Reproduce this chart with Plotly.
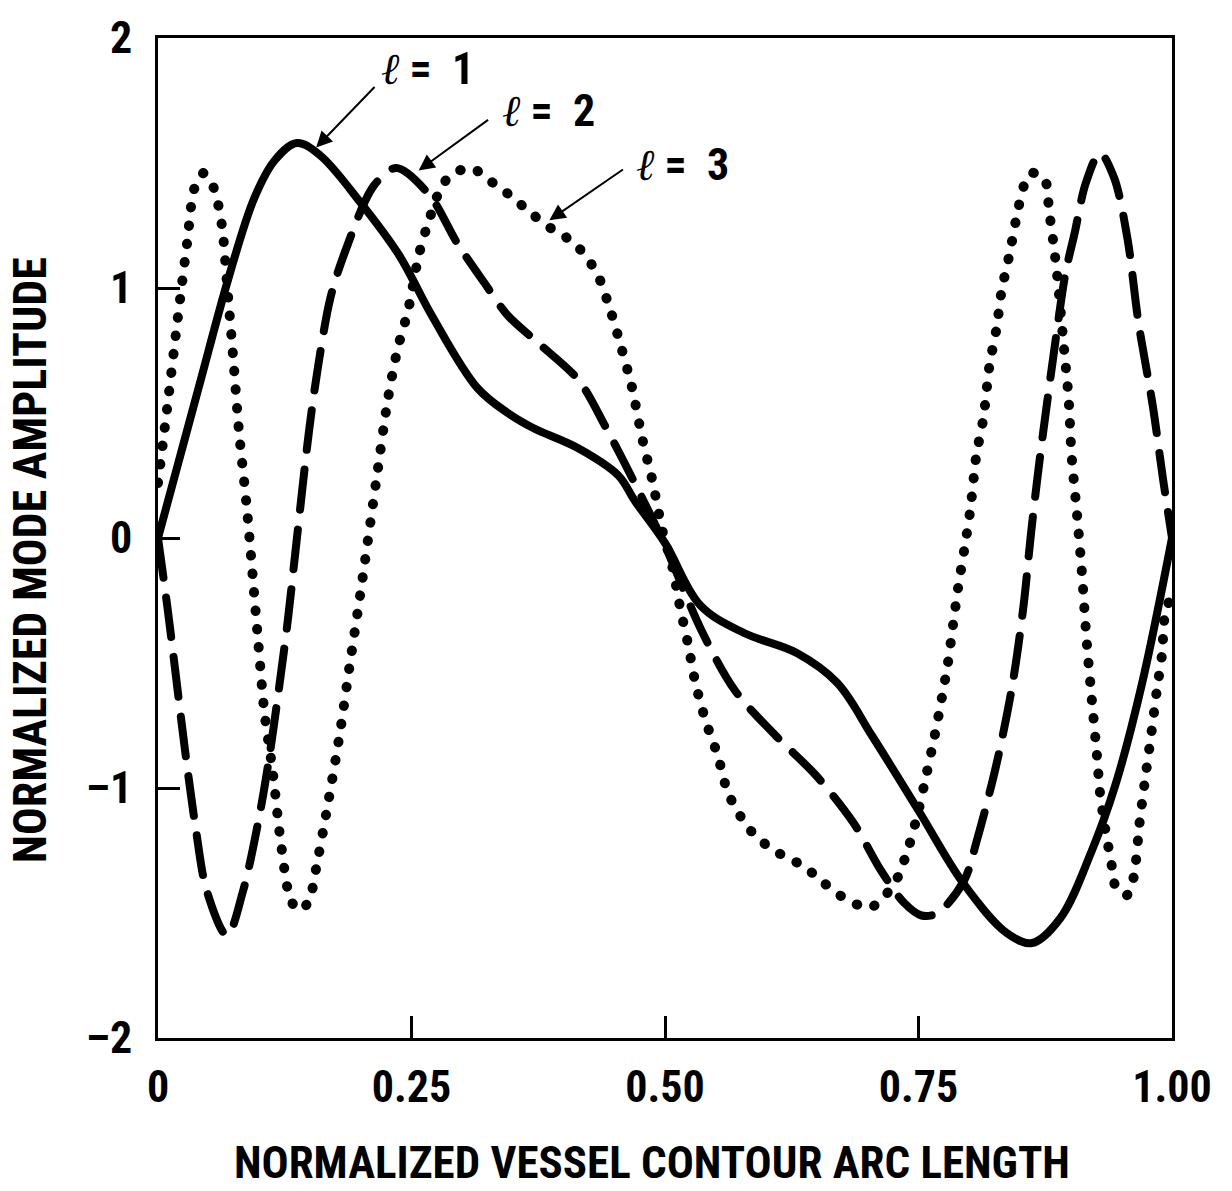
import plotly.graph_objects as go

# ---- data ----
l1_x = [0, 0.02, 0.04, 0.071, 0.095, 0.115, 0.137, 0.16, 0.2, 0.238, 0.27, 0.315, 0.345, 0.37,
        0.414, 0.454, 0.47, 0.5, 0.535, 0.578, 0.63, 0.67, 0.704, 0.75, 0.794, 0.837, 0.862,
        0.89, 0.92, 0.944, 0.97, 1.0]
l1_y = [0, 0.30, 0.60, 1.06, 1.36, 1.51, 1.58, 1.53, 1.34, 1.13, 0.89, 0.60, 0.50, 0.44,
        0.36, 0.25, 0.15, -0.02, -0.27, -0.38, -0.46, -0.58, -0.79, -1.09, -1.38, -1.58, -1.62,
        -1.52, -1.26, -0.99, -0.59, 0.0]

l2_x = [0, 0.0097, 0.027, 0.0375, 0.048, 0.068, 0.084, 0.1005, 0.11, 0.119, 0.128, 0.137,
        0.149, 0.158, 0.170, 0.184, 0.213, 0.235, 0.268, 0.295, 0.322, 0.345, 0.375, 0.415,
        0.442, 0.475, 0.5, 0.536, 0.569, 0.609, 0.649, 0.686, 0.713, 0.736, 0.753, 0.769,
        0.795, 0.8075, 0.8266, 0.8425, 0.8536, 0.861, 0.870, 0.8855, 0.895, 0.904, 0.915,
        0.929, 0.943, 0.956, 0.967, 0.981, 0.991, 1.0]
l2_y = [0, -0.29, -0.86, -1.17, -1.41, -1.59, -1.41, -1.10, -0.87, -0.61, -0.33, 0.0,
        0.43, 0.69, 0.96, 1.14, 1.41, 1.48, 1.37, 1.18, 1.02, 0.89, 0.78, 0.63,
        0.44, 0.18, -0.03, -0.37, -0.61, -0.79, -0.95, -1.14, -1.33, -1.46, -1.51, -1.50,
        -1.37, -1.21, -0.91, -0.59, -0.27, 0.02, 0.33, 0.80, 1.06, 1.22, 1.42,
        1.54, 1.44, 1.20, 0.86, 0.53, 0.24, 0.0]

l3_x = [0, 0.0105, 0.0195, 0.0287, 0.036, 0.045, 0.055, 0.063, 0.068, 0.074, 0.08, 0.0876,
        0.0987, 0.105, 0.113, 0.1215, 0.131, 0.14, 0.149, 0.156, 0.166, 0.179, 0.189, 0.2,
        0.2156, 0.2265, 0.2365, 0.2466, 0.2577, 0.268, 0.28, 0.292, 0.31, 0.323, 0.338, 0.353,
        0.368, 0.383, 0.4, 0.415, 0.425, 0.435, 0.447, 0.457, 0.467, 0.478, 0.487, 0.498,
        0.507, 0.515, 0.523, 0.53, 0.54, 0.552, 0.562, 0.57, 0.58, 0.592, 0.607, 0.622, 0.639,
        0.654, 0.669, 0.686, 0.702, 0.717, 0.728, 0.74, 0.75, 0.756, 0.766, 0.773, 0.779,
        0.784, 0.789, 0.795, 0.801, 0.807, 0.814, 0.82, 0.827, 0.832, 0.84, 0.847, 0.854,
        0.861, 0.874, 0.879, 0.884, 0.888, 0.893, 0.898, 0.901, 0.906, 0.911, 0.916, 0.921,
        0.926, 0.929, 0.934, 0.941, 0.944, 0.955, 0.962, 0.968, 0.973, 0.98, 0.985, 0.99,
        0.993, 1.0]
l3_y = [0.22, 0.57, 0.88, 1.18, 1.40, 1.46, 1.40, 1.25, 1.02, 0.73, 0.42, 0.12,
        -0.41, -0.70, -0.93, -1.23, -1.45, -1.49, -1.45, -1.32, -1.10, -0.79, -0.51, -0.21,
        0.24, 0.55, 0.76, 0.91, 1.14, 1.28, 1.41, 1.46, 1.48, 1.44, 1.40, 1.35,
        1.30, 1.25, 1.21, 1.16, 1.11, 1.04, 0.90, 0.76, 0.61, 0.39, 0.24, 0.02,
        -0.11, -0.28, -0.43, -0.58, -0.73, -0.87, -1.02, -1.08, -1.15, -1.20, -1.25, -1.28, -1.32,
        -1.37, -1.42, -1.46, -1.48, -1.43, -1.37, -1.24, -1.09, -0.98, -0.79, -0.64, -0.50,
        -0.35, -0.20, -0.05, 0.11, 0.33, 0.48, 0.69, 0.84, 0.99, 1.14, 1.29, 1.41,
        1.46, 1.44, 1.30, 1.15, 1.00, 0.78, 0.56, 0.33, 0.11, -0.13, -0.42, -0.65,
        -0.87, -1.02, -1.16, -1.32, -1.39, -1.43, -1.36, -1.14, -0.98, -0.77, -0.61, -0.47,
        -0.31, -0.22]

x_tickvals = [0, 0.25, 0.5, 0.75, 1.0]
x_ticktext = ["0", "0.25", "0.50", "0.75", "1.00"]
y_tickvals = [-2, -1, 0, 1, 2]
y_ticktext = ["\u20132", "\u20131", "0", "1", "2"]

mode_numbers = ["1", "2", "3"]
label_pos = [(0.218, 1.876), (0.337, 1.709), (0.469, 1.494)]
arrow_head = [(0.156, 1.562), (0.257, 1.47), (0.386, 1.271)]
arrow_tail = [(0.215, 1.81), (0.327, 1.677), (0.46, 1.478)]

FONT = "Roboto Condensed, Roboto, sans-serif"
ELL = "<span style='font-family:DejaVu Serif;font-style:italic;font-weight:normal'>\u2113</span>"


def font(size):
    return dict(family=FONT, size=size, color="black", weight="bold")


fig = go.Figure()
fig.add_trace(go.Scatter(x=l1_x, y=l1_y, mode="lines",
                         line=dict(color="black", width=8, shape="spline", smoothing=1.0)))
fig.add_trace(go.Scatter(x=l2_x, y=l2_y, mode="lines",
                         line=dict(color="black", width=8, shape="spline", smoothing=0.9,
                                   dash="40px,20px")))
fig.add_trace(go.Scatter(x=l3_x, y=l3_y, mode="lines",
                         line=dict(color="black", width=10, shape="spline", smoothing=0.8,
                                   dash="0.5px,18px")))

annotations = []
for num, (tx, ty), (hx, hy), (ax, ay) in zip(mode_numbers, label_pos, arrow_head, arrow_tail):
    annotations.append(dict(x=tx, y=ty, xref="x", yref="y", text=ELL + " =  " + num,
                            showarrow=False, xanchor="left", yanchor="middle", font=font(44)))
    annotations.append(dict(x=hx, y=hy, xref="x", yref="y", ax=ax, ay=ay,
                            axref="x", ayref="y", text="", showarrow=True,
                            arrowhead=2, arrowsize=1.6, arrowwidth=2, arrowcolor="black"))

annotations.append(dict(x=0.487, y=-0.124, xref="paper", yref="paper",
                        text="NORMALIZED VESSEL CONTOUR ARC LENGTH", showarrow=False,
                        xanchor="center", yanchor="middle", font=font(45)))
annotations.append(dict(x=-0.126, y=0.478, xref="paper", yref="paper",
                        text="NORMALIZED MODE AMPLITUDE", showarrow=False, textangle=-90,
                        xanchor="center", yanchor="middle", font=font(46)))

fig.update_layout(
    width=1232, height=1191,
    margin=dict(l=158, r=60, t=31, b=153),
    paper_bgcolor="white", plot_bgcolor="white",
    showlegend=False,
    annotations=annotations,
    xaxis=dict(range=[0, 1], showgrid=False, zeroline=False, showline=True, mirror=True,
               linecolor="black", linewidth=3, ticks="inside", ticklen=22, tickwidth=3,
               tickcolor="black", tickvals=x_tickvals, ticktext=x_ticktext,
               ticklabelstandoff=8, tickfont=font(44)),
    yaxis=dict(range=[-2, 2], showgrid=False, zeroline=False, showline=True, mirror=True,
               linecolor="black", linewidth=3, ticks="inside", ticklen=22, tickwidth=3,
               tickcolor="black", tickvals=y_tickvals, ticktext=y_ticktext,
               ticklabelstandoff=14, tickfont=font(44)),
)

post = """
var gd = document.getElementById('{plot_id}');
function rc(){
  gd.querySelectorAll('.scatterlayer .js-line').forEach(function(p){
    p.style.strokeLinecap='round'; p.style.strokeLinejoin='round';});
}
rc(); gd.on('plotly_afterplot', rc);
"""
fig.write_html("out.html", post_script=post, config={"staticPlot": True})
